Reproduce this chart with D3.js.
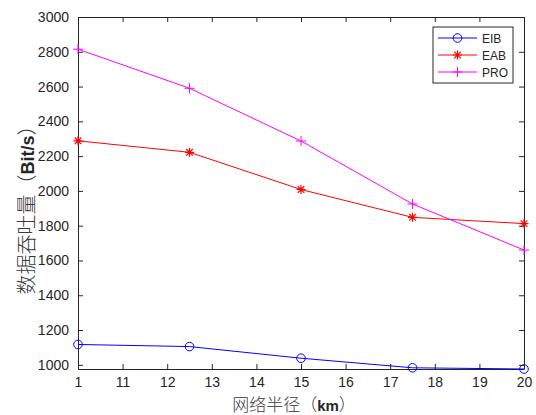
<!DOCTYPE html>
<html>
<head>
<meta charset="utf-8">
<script src="https://cdn.jsdelivr.net/npm/d3@7"></script>
<style>
  body { margin: 0; background: #fff; }
  svg text { font-family: "Liberation Sans", Arial, sans-serif; fill: #262626; }
</style>
</head>
<body>
<div id="chart"></div>
<script>
// data
const radius = [10, 12.5, 15, 17.5, 20];
const eib = [1117, 1105, 1038, 983, 976];
const eab = [2288, 2222, 2008, 1848, 1812];
const pro = [2815, 2590, 2287, 1925, 1660];
const xTicks = [10, 11, 12, 13, 14, 15, 16, 17, 18, 19, 20];
const xTickLabels = ["1", "11", "12", "13", "14", "15", "16", "17", "18", "19", "20"];
const yTicks = [1000, 1200, 1400, 1600, 1800, 2000, 2200, 2400, 2600, 2800, 3000];

const series = [
    {name: "EIB", values: eib, color: "#0000ff", marker: "circle"},
    {name: "EAB", values: eab, color: "#ff0000", marker: "star"},
    {name: "PRO", values: pro, color: "#ff00ff", marker: "plus"}
];

const W = 536, H = 415;
const margin = {top: 17, right: 12, bottom: 46, left: 78};
const width = W - margin.left - margin.right;
const height = H - margin.top - margin.bottom;

const svg = d3.select("#chart").append("svg")
    .attr("width", W).attr("height", H);
const g = svg.append("g")
    .attr("transform", "translate(" + margin.left + "," + margin.top + ")");

const x = d3.scaleLinear().domain([10, 20]).range([0, width]);
const y = d3.scaleLinear().domain([976, 3000]).range([height, 0]);

// axes, ticks pointing inward on all four sides
const tickLen = 5;
g.append("g").attr("transform", "translate(0," + height + ")")
    .call(d3.axisBottom(x).tickValues(xTicks).tickFormat((d, i) => xTickLabels[i])
        .tickSizeInner(-tickLen).tickSizeOuter(0).tickPadding(8));
g.append("g")
    .call(d3.axisTop(x).tickValues(xTicks).tickFormat("").tickSizeInner(-tickLen).tickSizeOuter(0));
g.append("g")
    .call(d3.axisLeft(y).tickValues(yTicks).tickFormat(d3.format("d"))
        .tickSizeInner(-tickLen).tickSizeOuter(0).tickPadding(9));
g.append("g").attr("transform", "translate(" + width + ",0)")
    .call(d3.axisRight(y).tickValues(yTicks).tickFormat("").tickSizeInner(-tickLen).tickSizeOuter(0));

g.selectAll(".domain").attr("stroke", "#262626");
g.selectAll(".tick line").attr("stroke", "#262626");
g.selectAll(".tick text").style("font-size", "14px").attr("fill", "#262626");

const line = d3.line().x((d, i) => x(radius[i])).y(d => y(d));

function drawMarker(sel, type, color, cx, cy) {
    if (type === "circle") {
        sel.append("circle").attr("cx", cx).attr("cy", cy).attr("r", 4.3)
            .attr("fill", "none").attr("stroke", color);
    } else if (type === "plus") {
        sel.append("path").attr("d", "M" + (cx - 5) + "," + cy + "h10M" + cx + "," + (cy - 5) + "v10")
            .attr("stroke", color);
    } else {
        sel.append("path")
            .attr("d", "M" + (cx - 4.5) + "," + cy + "h9M" + cx + "," + (cy - 4.5) + "v9" +
                "M" + (cx - 3.3) + "," + (cy - 3.3) + "l6.6,6.6M" + (cx - 3.3) + "," + (cy + 3.3) + "l6.6,-6.6")
            .attr("stroke", color).attr("stroke-width", 1.2);
    }
}

series.forEach(s => {
    g.append("path").datum(s.values)
        .attr("fill", "none").attr("stroke", s.color).attr("stroke-width", 1)
        .attr("d", line);
    const mg = g.append("g");
    s.values.forEach((v, i) => drawMarker(mg, s.marker, s.color, x(radius[i]), y(v)));
});

// legend
const lg = svg.append("g").attr("transform", "translate(433,27)");
lg.append("rect").attr("width", 80).attr("height", 56)
    .attr("fill", "#fff").attr("stroke", "#262626").attr("stroke-width", 1);
series.forEach((s, i) => {
    const ly = 11 + i * 17;
    lg.append("line").attr("x1", 5).attr("x2", 44).attr("y1", ly).attr("y2", ly)
        .attr("stroke", s.color);
    drawMarker(lg, s.marker, s.color, 24.5, ly);
    lg.append("text").attr("x", 49).attr("y", ly + 4.5).style("font-size", "12px").text(s.name);
});

// axis titles: CJK part light, latin part in Arial-like bold
const cjk = "'Noto Sans CJK SC', sans-serif";
function addTitle(t, size, parts) {
    parts.forEach(p => {
        t.append("tspan")
            .style("font-family", p.latin ? "'Liberation Sans', Arial, sans-serif" : cjk)
            .style("font-weight", p.latin ? "bold" : 300)
            .style("font-size", (p.latin ? size - 2 : size) + "px")
            .attr("fill", p.latin ? "#262626" : "#3a3a3a")
            .text(p.text);
    });
}
const xt = svg.append("text")
    .attr("x", 294).attr("y", 411)
    .attr("text-anchor", "middle");
addTitle(xt, 17, [{text: "网络半径（"}, {text: "km", latin: true}, {text: "）"}]);

const yt = svg.append("text")
    .attr("transform", "translate(34,205) rotate(-90)")
    .attr("text-anchor", "middle");
addTitle(yt, 20, [{text: "数据吞吐量（"}, {text: "Bit/s", latin: true}, {text: "）"}]);
</script>
</body>
</html>
